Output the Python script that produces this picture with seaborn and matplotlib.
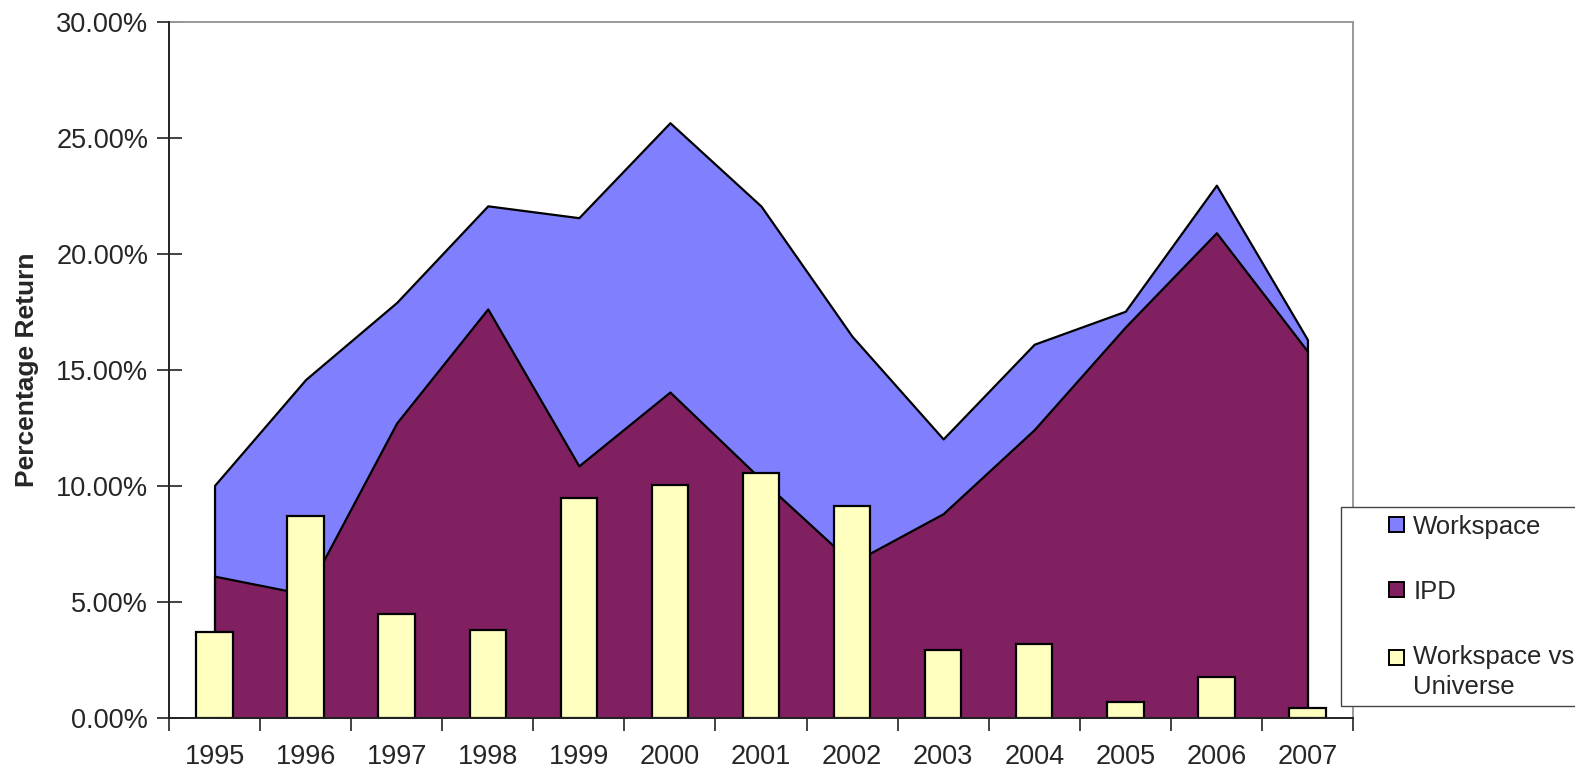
import numpy as np
import pandas as pd
import matplotlib
matplotlib.use("Agg")
import matplotlib.pyplot as plt
from matplotlib.patches import Patch, Rectangle
from matplotlib.legend_handler import HandlerPatch
from matplotlib.ticker import FuncFormatter, FixedLocator
import seaborn as sns

years = ["1995", "1996", "1997", "1998", "1999", "2000", "2001",
         "2002", "2003", "2004", "2005", "2006", "2007"]
workspace = [10.02, 14.58, 17.90, 22.06, 21.55, 25.64, 22.05,
             16.44, 12.02, 16.10, 17.52, 22.95, 16.30]
ipd = [6.11, 5.33, 12.71, 17.62, 10.86, 14.04, 10.28,
       6.68, 8.80, 12.42, 16.84, 20.90, 15.80]
ws_vs_universe = [3.70, 8.69, 4.49, 3.78, 9.47, 10.02, 10.55,
                  9.13, 2.93, 3.19, 0.70, 1.75, 0.42]

series_names = ["Workspace", "IPD", "Workspace vs\nUniverse"]
colors = ["#8080FF", "#802060", "#FFFFC0"]

sns.set_style("white")
plt.rcParams["font.family"] = ["Liberation Sans", "DejaVu Sans"]

df = pd.DataFrame({"year": years, "vs": ws_vs_universe})

fig = plt.figure(figsize=(15.75, 7.74), dpi=100)
ax = fig.add_axes([169 / 1575, 1 - 718 / 774, (1353 - 169) / 1575, (718 - 21.5) / 774])

pos = np.arange(len(years))

# Area series: Workspace behind, IPD in front, both from zero
ax.fill_between(pos, 0, workspace, facecolor=colors[0], edgecolor="black",
                linewidth=1.6, zorder=1)
ax.fill_between(pos, 0, ipd, facecolor=colors[1], edgecolor="black",
                linewidth=1.6, zorder=2)

# Column series on top
sns.barplot(data=df, x="year", y="vs", color=colors[2], width=0.4,
            edgecolor="black", linewidth=1.6, saturation=1, zorder=3, ax=ax)

ax.set_xlim(-0.5, len(years) - 0.5)
ax.set_ylim(0, 30)
ax.set_yticks(np.arange(0, 30.01, 5))
ax.yaxis.set_major_formatter(FuncFormatter(lambda v, p: f"{v:.2f}%"))

ax.set_xticks(pos)
ax.set_xticklabels(years)
ax.xaxis.set_minor_locator(FixedLocator(np.arange(-0.5, len(years), 1.0)))
ax.tick_params(axis="x", which="major", length=0, pad=19, labelsize=19.5)
ax.tick_params(axis="x", which="minor", length=9, width=1.2, direction="out",
               color="#222222", bottom=True)
ax.tick_params(axis="y", which="major", length=18, width=1.2, direction="inout",
               color="#222222", pad=6, labelsize=19.5, left=True)

ax.set_xlabel("")
ax.set_ylabel("Percentage Return", fontsize=19, fontweight="bold", labelpad=12)

for side in ("left", "bottom"):
    ax.spines[side].set_color("#222222")
    ax.spines[side].set_linewidth(1.4)
for side in ("top", "right"):
    ax.spines[side].set_color("#999999")
    ax.spines[side].set_linewidth(1.4)
    ax.spines[side].set_visible(True)
ax.spines["left"].set_zorder(5)
ax.spines["bottom"].set_zorder(5)

handles = [Patch(facecolor=c, edgecolor="black", linewidth=1.4) for c in colors]
two_line_keys = {id(h) for h, name in zip(handles, series_names) if "\n" in name}


def square_key(legend, orig_handle, xdescent, ydescent, width, height, fontsize):
    # small square key at the right end of the handle box,
    # level with the first text line for two-line labels
    size = 15.0 * 72 / fig.dpi
    y = height / 2 - size / 2 - ydescent
    if id(orig_handle) in two_line_keys:
        y += 15.0 * 72 / fig.dpi
    return Rectangle((width - size - xdescent, y), size, size)


leg = fig.legend(handles, series_names, loc="upper left", mode="expand",
                 bbox_to_anchor=(1341 / 1575, 0, (1600 - 1341) / 1575, 1 - 507 / 774),
                 fontsize=18.5, frameon=True, fancybox=False, framealpha=1,
                 edgecolor="#444444", borderpad=0.3, labelspacing=1.6,
                 handlelength=2.16, handleheight=0.7, handletextpad=0.35,
                 borderaxespad=0,
                 handler_map={Patch: HandlerPatch(patch_func=square_key)})
leg.get_frame().set_linewidth(1.0)
for txt in leg.get_texts():
    txt.set_linespacing(1.3)

fig.savefig("out.png", dpi=100, facecolor="white")
